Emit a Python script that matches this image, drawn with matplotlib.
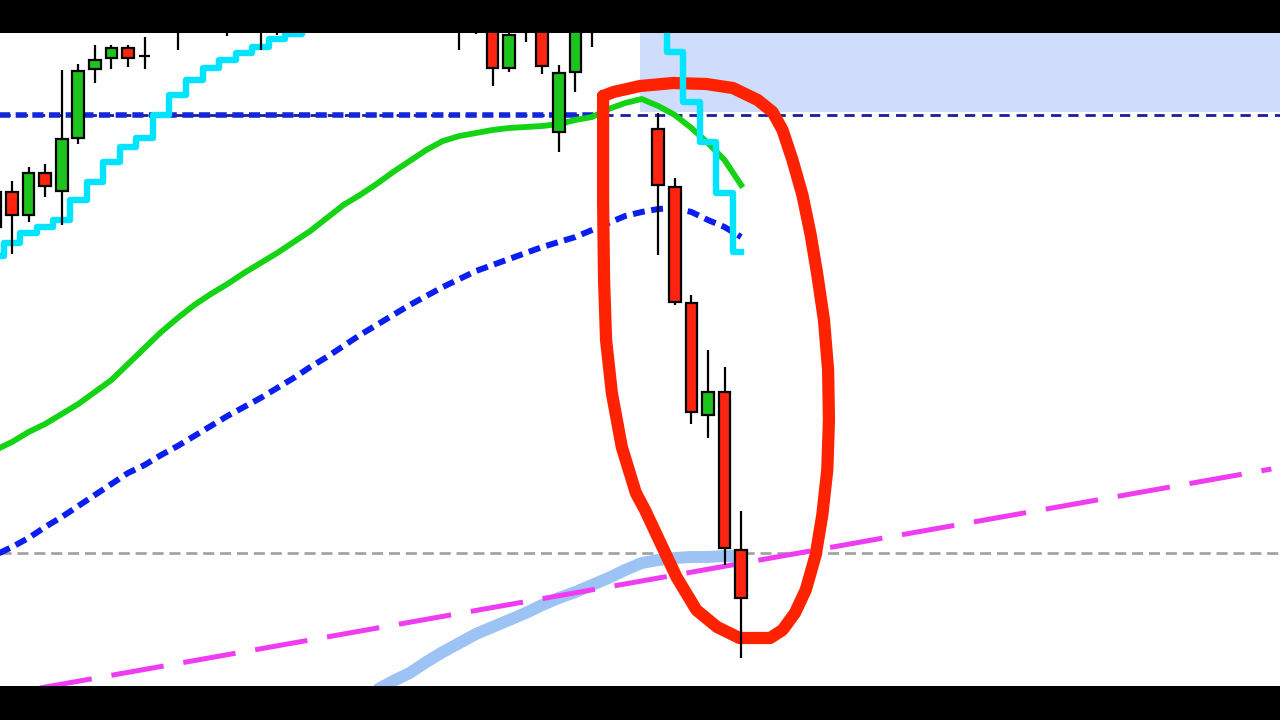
import matplotlib
matplotlib.use('Agg')
import matplotlib.pyplot as plt
import numpy as np

# candles: bar index, open, high, low, close (price units)
candle_idx = [-1, 0, 1, 2, 3, 4, 5, 6, 7, 8, 10, 13, 15, 16, 27, 28, 29, 30, 31,
              32, 33, 34, 35, 39, 40, 41, 42, 43, 44]
opens = [459, 494, 471, 513, 495, 548, 617, 628, 638, 630, 662, 668, 664, 672, 664,
         670, 666, 618, 660, 668, 554, 614, 664, 557, 499, 383, 271, 294, 136]
highs = [501, 505, 519, 522, 616, 622, 641, 641, 641, 649, 672, 675, 680, 684, 676,
         680, 678, 676, 672, 680, 621, 676, 672, 573, 508, 391, 336, 319, 175]
lows = [446, 432, 464, 489, 461, 542, 603, 617, 619, 617, 636, 650, 636, 651, 636,
        652, 600, 614, 644, 612, 534, 594, 639, 431, 381, 262, 248, 121, 28]
closes = [494, 471, 513, 500, 547, 615, 626, 638, 628, 630, 668, 660, 672, 666, 670,
          662, 618, 651, 656, 620, 613, 664, 668, 501, 384, 274, 294, 138, 88]

# indicator lines, one value per bar from -1 to 44
bars = list(range(-1, 45))
stop_line = [430, 443, 453, 459, 466, 486, 504, 524, 539, 548, 571, 591, 606, 618,
             626, 633, 639, 647, 652, 662] + [None] * 20 + [666, 634, 584, 544, 493, 434]
ma_fast = [236, 244, 254, 262, 272, 282, 294, 306, 322, 338, 354, 368, 381, 392, 402,
           413, 423, 433, 444, 455, 468, 481, 491, 502, 514, 525, 536, 545, 550, 553,
           556, 558, 559, 560, 562, 566, 569, 577, 583, 587, 580, 571, 558, 543, 526, 501]
ma_slow = [131, 139, 148, 159, 169, 180, 191, 202, 213, 221, 231, 240, 250, 260, 270,
           279, 288, 298, 308, 319, 329, 340, 351, 361, 371, 381, 390, 399, 407, 415,
           421, 427, 433, 439, 444, 449, 456, 463, 470, 474, 477, 478, 474, 466, 459, 449]
band_bars = list(range(22, 45))
ma_long = [-4, 5, 13, 24, 34, 43, 52, 59, 66, 73, 81, 88, 94, 101, 108, 116, 123, 126,
           128, 129, 129, 130, 130]

# levels and objects
resistance = 571
support = 133
trend_x = [0, 76]
trend_y = [-7, 217]
zone_start = 37.9
zone_bottom = 574
circle_x = [35.67, 36.3, 37.9, 39.9, 41.9, 43.5, 45.0, 45.9, 46.5, 47.1, 47.7, 48.2,
            48.6, 49.0, 49.25, 49.3, 49.2, 48.9, 48.5, 47.9, 47.25, 46.5, 45.75, 43.9,
            42.55, 41.3, 40.1, 39.05, 38.2, 37.65, 36.8, 36.2, 35.85, 35.73, 35.67, 35.67]
circle_y = [590, 594, 600, 603, 602, 598, 586, 574, 556, 526, 491, 451, 411, 366, 316,
            266, 216, 171, 131, 96, 73, 56, 48, 48, 59, 76, 109, 146, 176, 193, 239, 293,
            346, 406, 486, 590]

fig = plt.figure(figsize=(12.8, 7.2), dpi=100, facecolor='black')
ax = fig.add_axes([0, 34 / 720, 1, 653 / 720])
ax.set_facecolor('#fefefe')
ax.set_xlim(-0.724, 76.52)
ax.set_ylim(0, 653)
ax.set_xticks([])
ax.set_yticks([])
for s in ax.spines.values():
    s.set_visible(False)

# shaded zone and horizontal levels
ax.fill_between([zone_start, 80], zone_bottom, 700, color='#cfdcfb', lw=0, zorder=1)
ax.axhline(resistance, color='#1c1c9c', lw=2.0, ls=(0, (3.7, 2.5)), zorder=1.5)
ax.plot([-1, 35.5], [resistance, resistance], color='#1228d8', lw=4.0,
        ls=(0, (2.0, 1.0)), zorder=1.6)
ax.axhline(support, color='#a0a0a0', lw=1.9, ls=(0, (4.2, 2.2)), zorder=1.5)

# indicators
ax.plot(band_bars, ma_long, color='#9dc3f5', lw=8.6, solid_capstyle='butt', zorder=2)
ax.plot(trend_x, trend_y, color='#f03cf0', lw=3.6, ls=(9, (10.6, 4.0)), zorder=2.2)
ax.plot(bars, ma_slow, color='#0a1ef0', lw=4.3, ls=(0, (2.0, 1.1)), zorder=2.3)
ax.plot(bars, ma_fast, color='#14d214', lw=4.2, zorder=2.4)

# hand drawn circle
ax.plot(circle_x, circle_y, color='#ff2200', lw=8.8, solid_joinstyle='round',
        solid_capstyle='round', zorder=3)

stop = np.array([np.nan if v is None else v for v in stop_line], dtype=float)
ax.plot(bars, stop, color='#00e4ff', lw=4.6, drawstyle='steps-mid', zorder=3.5)

# candles
o = np.array(opens)
c = np.array(closes)
cols = np.where(c > o, '#1ec41e', np.where(c < o, '#ff2410', 'black'))
ax.vlines(candle_idx, lows, highs, color='black', lw=1.6, zorder=4)
ax.bar(candle_idx, np.abs(c - o), bottom=np.minimum(o, c), width=0.7, color=cols,
       edgecolor='black', linewidth=1.6, zorder=4.5)

fig.savefig('out.png', dpi=100, facecolor='black')
plt.close(fig)
